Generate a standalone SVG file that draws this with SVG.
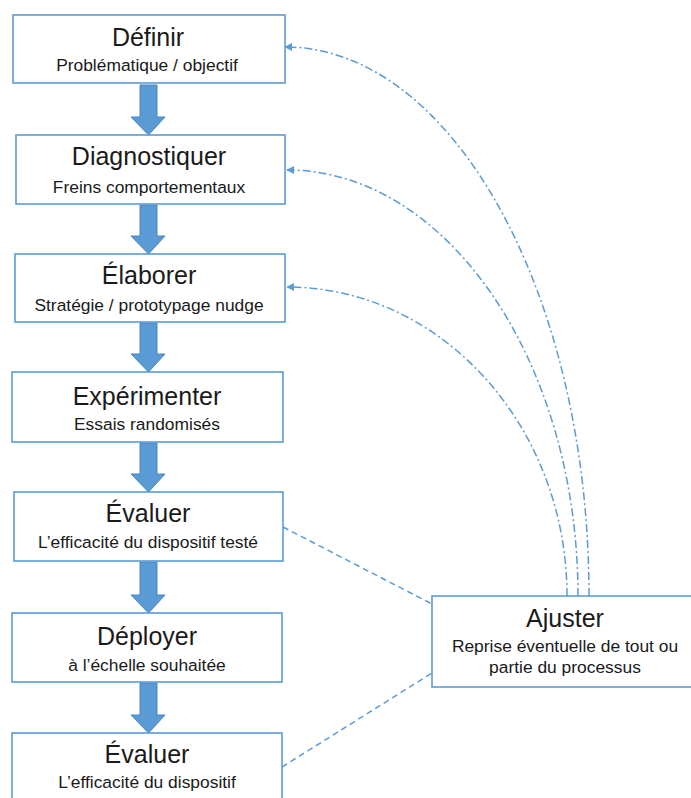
<svg xmlns="http://www.w3.org/2000/svg" width="691" height="798" viewBox="0 0 691 798">
<style>
.box{fill:#fff;stroke:#5b9bd5;stroke-width:1.6}
.t{font-family:"Liberation Sans",Arial,sans-serif;font-size:25px;fill:#1a1a1a;text-anchor:middle}
.s{font-family:"Liberation Sans",Arial,sans-serif;font-size:17.4px;fill:#1a1a1a;text-anchor:middle}
.arr{fill:#5b9bd5;stroke:#4a86c0;stroke-width:1}
.dd{fill:none;stroke:#5b9bd5;stroke-width:1.5;stroke-dasharray:8 3 2 3}
.da{fill:none;stroke:#5b9bd5;stroke-width:1.5;stroke-dasharray:6 4}
</style>
<defs>
<marker id="ah" viewBox="0 0 10 10" refX="9" refY="5" markerWidth="5.5" markerHeight="5.5" orient="auto-start-reverse" markerUnits="strokeWidth">
<path d="M0,0 L10,5 L0,10 z" fill="#5b9bd5"/>
</marker>
</defs>
<g id="connectors">
<path class="arr" d="M140,85 H157 V117 H165 L148.5,135 L131,117 H140 Z"/>
<path class="arr" d="M140,205 H157 V236 H165 L148.5,254 L131,236 H140 Z"/>
<path class="arr" d="M140,323 H157 V354 H165 L148.5,372 L131,354 H140 Z"/>
<path class="arr" d="M140,443 H157 V474 H165 L148.5,492 L131,474 H140 Z"/>
<path class="arr" d="M140,562 H157 V595 H165 L148.5,613 L131,595 H140 Z"/>
<path class="arr" d="M140,683 H157 V715 H165 L148.5,733 L131,715 H140 Z"/>
<path class="dd" d="M589,596 C589,294 452,47 285,47" marker-end="url(#ah)"/>
<path class="dd" d="M578,596 C578,362 447,170 287,170" marker-end="url(#ah)"/>
<path class="dd" d="M567,596 C567,426 441,287 287,287" marker-end="url(#ah)"/>
<path class="da" d="M283,527 L432,604"/>
<path class="da" d="M282,767 L432,673"/>
</g>
<g id="definir">
<rect class="box" x="13" y="15" width="272" height="68"/>
<text class="t" x="148" y="46">Définir</text>
<text class="s" x="147" y="71">Problématique / objectif</text>
</g>
<g id="diagnostiquer">
<rect class="box" x="16" y="135" width="269" height="69"/>
<text class="t" x="149" y="165">Diagnostiquer</text>
<text class="s" x="149" y="193">Freins comportementaux</text>
</g>
<g id="elaborer">
<rect class="box" x="15" y="254" width="270" height="68"/>
<text class="t" x="149" y="284">Élaborer</text>
<text class="s" x="149" y="311">Stratégie / prototypage nudge</text>
</g>
<g id="experimenter">
<rect class="box" x="12" y="372" width="271" height="70"/>
<text class="t" x="147" y="405">Expérimenter</text>
<text class="s" x="147" y="430">Essais randomisés</text>
</g>
<g id="evaluer1">
<rect class="box" x="14" y="492" width="269" height="69"/>
<text class="t" x="148" y="522">Évaluer</text>
<text class="s" x="148" y="548">L’efficacité du dispositif testé</text>
</g>
<g id="deployer">
<rect class="box" x="12" y="613" width="270" height="69"/>
<text class="t" x="147" y="645">Déployer</text>
<text class="s" x="147" y="671">à l’échelle souhaitée</text>
</g>
<g id="evaluer2">
<rect class="box" x="12" y="733" width="270" height="70"/>
<text class="t" x="147" y="763">Évaluer</text>
<text class="s" x="147" y="788">L’efficacité du dispositif</text>
</g>
<g id="ajuster">
<rect class="box" x="432" y="596" width="262" height="91"/>
<text class="t" x="565" y="627">Ajuster</text>
<text class="s" x="565" y="652">Reprise éventuelle de tout ou</text>
<text class="s" x="565" y="673">partie du processus</text>
</g>
</svg>
